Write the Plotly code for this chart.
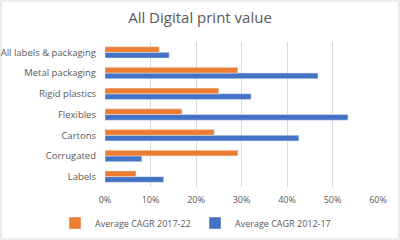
import plotly.graph_objects as go

categories = ["Labels", "Corrugated", "Cartons", "Flexibles", "Rigid plastics",
              "Metal packaging", "All labels & packaging"]
cagr_2017_22 = [0.068, 0.292, 0.240, 0.169, 0.250, 0.292, 0.119]
cagr_2012_17 = [0.129, 0.081, 0.426, 0.534, 0.321, 0.468, 0.141]
series_names = ["Average CAGR 2017-22", "Average CAGR 2012-17"]

W, H = 400, 240
ml, mr, mt, mb = 105, 22, 42, 53
pw, ph = W - ml - mr, H - mt - mb

fig = go.Figure()
fig.add_trace(go.Bar(y=categories, x=cagr_2012_17, orientation="h", name=series_names[1],
                     marker_color="#4472C4", legendrank=2))
fig.add_trace(go.Bar(y=categories, x=cagr_2017_22, orientation="h", name=series_names[0],
                     marker_color="#ED7D31", legendrank=1))

fig.update_layout(
    width=W, height=H,
    margin=dict(l=ml, r=mr, t=mt, b=mb, autoexpand=False),
    paper_bgcolor="white", plot_bgcolor="white",
    barmode="group", bargap=0.45, bargroupgap=0,
    font=dict(family="Open Sans", size=9, color="#595959"),
    title=dict(text="All Digital print value", x=0.5, xanchor="center", y=1 - 18 / H,
               yanchor="middle", font=dict(size=15, color="#595959")),
    xaxis=dict(range=[0, 0.6], dtick=0.1, tickformat=".0%", showgrid=True,
               gridcolor="#d9d9d9", gridwidth=1, zeroline=False, showline=False,
               ticks="", ticklabelstandoff=6, automargin=False,
               tickfont=dict(size=9, color="#595959")),
    yaxis=dict(showgrid=False, zeroline=False, showline=False, ticks="",
               ticklabelstandoff=8, automargin=False,
               tickfont=dict(size=9.5, color="#595959")),
    legend=dict(orientation="h", x=(55 - ml) / pw, xanchor="left",
                y=-36 / ph, yanchor="middle", font=dict(size=9, color="#595959"),
                itemwidth=30, entrywidth=95, entrywidthmode="pixels",
                traceorder="normal"),
    shapes=[dict(type="rect", xref="paper", yref="paper",
                 x0=-(ml - 1) / pw, x1=1 + (mr - 1) / pw,
                 y0=-(mb - 1) / ph, y1=1 + (mt - 1) / ph,
                 line=dict(color="#d9d9d9", width=1), layer="below")],
)

fig.write_html("out.html")
